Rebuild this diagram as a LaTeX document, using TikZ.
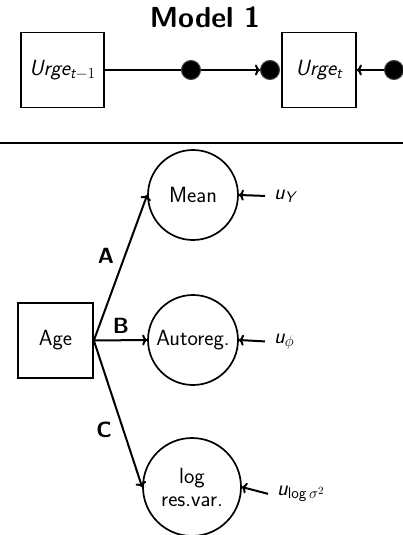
\documentclass[tikz,border=0pt]{standalone}
\usepackage{fix-cm}
\usepackage{amsmath}
\usepackage{fontspec}
\usetikzlibrary{arrows.meta}
\renewcommand\familydefault{\sfdefault}
\begin{document}
\begin{tikzpicture}[x=1pt,y=-1pt,
  txt/.style={font=\fontsize{22}{23}\selectfont},
  bigtxt/.style={font=\fontsize{22}{27}\selectfont},
  lbl/.style={font=\fontsize{22}{26}\selectfont\bfseries},
  box/.style={draw, line width=1.7pt, inner sep=0pt, minimum width=#1, minimum height=75pt},
  circ/.style={draw, circle, line width=1.7pt, minimum size=#1, inner sep=0pt, align=center, txt},
  dot/.style={circle, fill=black, draw=black!75, line width=1pt, minimum size=19pt, inner sep=0pt},
  conn/.style={line width=2pt},
  arr/.style={conn, -{To[length=5pt,width=11pt]}},
  ulbl/.style={anchor=base west, inner sep=0pt, txt}]
\useasboundingbox (0,0) rectangle (403,535);
\clip (0,0) rectangle (403,535);
% top part
\node[font=\fontsize{29}{33}\selectfont\bfseries, anchor=base] (title) at (205,28) {Model 1};
\node[box=83pt, bigtxt] (u1) at (62.5,70) {\itshape Urge$_{\text{\itshape t}-1}$};
\node[box=74pt, bigtxt] (u2) at (319,70) {\itshape Urge$_{\text{\itshape t}}$};
\node[dot] (d1) at (191,70) {};
\node[dot] (d2) at (270,70) {};
\node[dot] (d3) at (394,70) {};
\draw[conn] (u1.east) -- (d1.west);
\draw[arr] (d1.east) -- (d2.west);
\draw[arr] (d3.west) -- (u2.east);
% rule
\coordinate (rl) at (0,143);
\coordinate (rr) at (403,143);
\draw[line width=2.5pt] (rl) -- (rr);
% bottom part
\node[box=75pt, txt] (age) at (55.5,340.5) {Age};
\node[circ=90pt] (mean) at (193,195) {Mean};
\node[circ=90pt] (auto) at (193,340) {Autoreg.};
\node[circ=98pt] (logv) at (192,487) {log\\res.var.};
\draw[arr] (age.east) -- (mean.west);
\draw[arr] (age.east) -- (auto.west);
\draw[arr] (age.east) -- (logv.west);
\node[lbl] (la) at (106,256) {A};
\node[lbl] (lb) at (121,326) {B};
\node[lbl] (lc) at (104,430) {C};
\node[ulbl] (uY) at (274,199) {\itshape u$_{\text{\itshape Y}}$};
\node[ulbl] (uphi) at (274,343) {\itshape u$_{\phi}$};
\node[ulbl] (ulog) at (277,495) {\itshape u$_{\text{\upshape log}\,\sigma^2}$};
\draw[arr] ([xshift=-9pt]uY.west) -- (mean.east);
\draw[arr] ([xshift=-9pt]uphi.west) -- (auto.east);
\draw[arr] ([xshift=-9pt]ulog.west) -- (logv.east);
\end{tikzpicture}
\end{document}
